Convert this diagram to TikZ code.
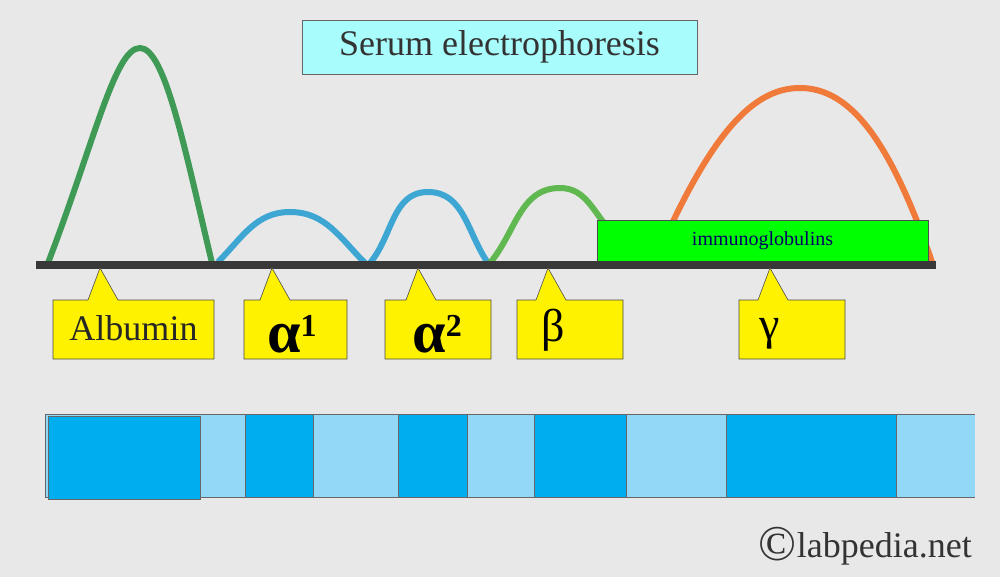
\documentclass[tikz,border=0pt]{standalone}
\usepackage{fontspec}
\setmainfont{Liberation Serif}
\begin{document}
\begin{tikzpicture}[x=1pt,y=-1pt,
  hump/.style={line width=6pt},
  callout/.style={fill=yellow,draw=black!70,line width=0.6pt},
  lbl/.style={inner sep=0pt}]
\useasboundingbox (0,0) rectangle (1000,577);
\fill[gray!18] (0,0) rectangle (1000,577);
\definecolor{dk}{HTML}{00AEEF}\definecolor{lt}{HTML}{93D8F6}
\definecolor{gA}{HTML}{3F9A55}\definecolor{bA}{HTML}{3DA6D2}\definecolor{gB}{HTML}{60B850}\definecolor{oG}{HTML}{F07A3A}
\definecolor{tc}{HTML}{A8FCFC}
% title
\node[fill=tc,draw=black!60,minimum width=395pt,minimum height=54pt,inner sep=0pt,font=\fontsize{36}{36}\selectfont,text=black!80] (title) at (499.5,47) {Serum electrophoresis};
% curves
\draw[hump,gA] (48,263) .. controls (95,140) and (115,48) .. (140,48) .. controls (165,48) and (185,150) .. (212,263);
\draw[hump,bA] (218,262) to[out=45,in=180] (290,212) to[out=0,in=135] (365,263);
\draw[hump,bA] (370,263) to[out=50,in=180] (428,192) to[out=0,in=125] (488,263);
\draw[hump,gB] (490,263) to[out=50,in=180] (560,188) to[out=0,in=135] (612,232);
\draw[hump,oG] (668,232) .. controls (720,120) and (760,88) .. (800,88) .. controls (850,88) and (890,140) .. (932,262);
\node[fill=green,draw=black!70,minimum width=331pt,minimum height=41pt,inner sep=0pt,font=\fontsize{20}{20}\selectfont,text=blue!40!black] (ig) at (762.5,240.5) {immunoglobulins};
\draw[line width=8pt,black!78] (36,265) -- (936,265);
% callouts
\foreach \a/\b/\p in {53/214/100,244/347/272,385/491/418,517/623/548,739/845/770}{
  \draw[callout] (\a,300) -- (\p-12,300) -- (\p,268) -- (\p+18,300) -- (\b,300) -- (\b,359) -- (\a,359) -- cycle;
}
\node[lbl,font=\fontsize{36}{36}\selectfont,text=black!85] (talb) at (133.5,328) {Albumin};
\node[lbl,font=\fontsize{60}{60}\selectfont\bfseries] (ta1) at (292,334) {α\raisebox{16pt}{\fontsize{32}{32}\selectfont 1}};
\node[lbl,font=\fontsize{60}{60}\selectfont\bfseries] (ta2) at (437,334) {α\raisebox{16pt}{\fontsize{32}{32}\selectfont 2}};
\node[lbl,font=\fontsize{46}{46}\selectfont] (tbe) at (553,330) {β};
\node[lbl,font=\fontsize{46}{46}\selectfont] (tga) at (770,334) {γ};
% band
\fill[lt] (45,414) rectangle (975,497);
\draw[black!60,line width=0.6pt] (45,414) -- (975,414) (45,497) -- (975,497) (45,414) -- (45,497);
\foreach \a/\b in {245/313,398/467,534/626,726/896}{\draw[fill=dk,draw=black!60,line width=0.5pt] (\a,414) rectangle (\b,497);}
\draw[fill=dk,draw=black!60,line width=0.6pt] (48,416) rectangle (200,499);
\node[font=\fontsize{36}{36}\selectfont,text=black!80,anchor=east,inner sep=0pt] (copy) at (972,546) {\raisebox{-3pt}{\fontsize{50}{50}\selectfont ©}labpedia.net};
\end{tikzpicture}
\end{document}
